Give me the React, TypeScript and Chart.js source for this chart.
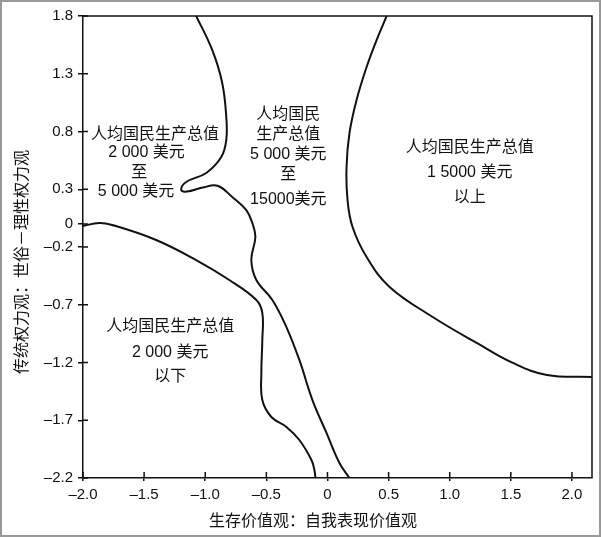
import React, { useEffect, useRef } from "react";
import { Chart, registerables } from "chart.js";

Chart.register(...registerables);

const xTicks = [-2.0, -1.5, -1.0, -0.5, 0, 0.5, 1.0, 1.5, 2.0];
const yTicks = [1.8, 1.3, 0.8, 0.3, 0, -0.2, -0.7, -1.2, -1.7, -2.2];
const xMin = -2.0;
const xMax = 2.164;
const yMin = -2.2;
const yMax = 1.8;

// Boundary between 2000–5000 / <2000 zones and 5000–15000 zone
const boundaryA_x = [-1.074, -0.943, -0.861, -0.828, -0.828, -0.869, -0.992, -1.156, -1.197, -1.15, -1.02, -0.9, -0.779, -0.664, -0.615, -0.59, -0.623, -0.582, -0.451, -0.336, -0.23, -0.123, -0.008, 0.098, 0.18];
const boundaryA_y = [1.8, 1.506, 1.22, 0.926, 0.726, 0.579, 0.441, 0.363, 0.294, 0.28, 0.315, 0.33, 0.233, 0.12, 0.008, -0.113, -0.313, -0.486, -0.659, -0.893, -1.178, -1.525, -1.81, -2.07, -2.2];

// Boundary of the < 2000 zone
const boundaryB_x = [-2.0, -1.869, -1.762, -1.402, -1.074, -0.803, -0.582, -0.533, -0.533, -0.541, -0.533, -0.459, -0.336, -0.23, -0.131, -0.107, -0.098];
const boundaryB_y = [-0.018, 0.008, -0.009, -0.139, -0.313, -0.486, -0.659, -0.771, -1.005, -1.291, -1.525, -1.672, -1.758, -1.871, -2.044, -2.131, -2.2];

// Boundary of the > 15000 zone
const boundaryC_x = [0.484, 0.402, 0.32, 0.238, 0.18, 0.156, 0.164, 0.205, 0.32, 0.508, 0.861, 1.221, 1.516, 1.795, 2.164];
const boundaryC_y = [1.8, 1.592, 1.358, 1.073, 0.787, 0.493, 0.207, -0.027, -0.287, -0.546, -0.806, -1.031, -1.204, -1.308, -1.326];

const zoneLabels = [
  { text: "人均国民生产总值", x: -1.41, y: 0.77 },
  { text: "2 000 美元", x: -1.48, y: 0.614 },
  { text: "至", x: -1.54, y: 0.44 },
  { text: "5 000 美元", x: -1.566, y: 0.276 },
  { text: "人均国民", x: -0.32, y: 0.943 },
  { text: "生产总值", x: -0.32, y: 0.77 },
  { text: "5 000 美元", x: -0.32, y: 0.597 },
  { text: "至", x: -0.32, y: 0.423 },
  { text: "15000美元", x: -0.32, y: 0.207 },
  { text: "人均国民生产总值", x: 1.164, y: 0.657 },
  { text: "1 5000 美元", x: 1.164, y: 0.441 },
  { text: "以上", x: 1.164, y: 0.224 },
  { text: "人均国民生产总值", x: -1.287, y: -0.893 },
  { text: "2 000 美元", x: -1.287, y: -1.118 },
  { text: "以下", x: -1.287, y: -1.326 },
];

const xTitle = "生存价值观：自我表现价值观";
const yTitle = "传统权力观：世俗－理性权力观";

const zip = (xs: number[], ys: number[]) => xs.map((x, i) => ({ x, y: ys[i] }));

const fmt = (v: number) => (v === 0 ? "0" : (v < 0 ? "\u2013" : "") + Math.abs(v).toFixed(1));

const INK = "#111";
const LABEL_FONT = "16px 'Liberation Sans', 'Noto Sans CJK SC', sans-serif";
const TICK_FONT_FAMILY = "'Liberation Sans', Arial, sans-serif";

const decorPlugin = {
  id: "decor",
  beforeDraw(chart: any) {
    const ctx = chart.ctx;
    ctx.save();
    ctx.fillStyle = "#fff";
    ctx.fillRect(0, 0, chart.width, chart.height);
    ctx.strokeStyle = "#999";
    ctx.lineWidth = 2;
    ctx.strokeRect(1, 1, chart.width - 3, chart.height - 2);
    ctx.restore();
  },
  afterDraw(chart: any) {
    const ctx = chart.ctx;
    const a = chart.chartArea;
    const xs = chart.scales.x;
    const ys = chart.scales.y;
    ctx.save();
    ctx.strokeStyle = INK;
    ctx.lineWidth = 1.5;
    ctx.beginPath();
    ctx.moveTo(a.left, a.top);
    ctx.lineTo(a.right, a.top);
    ctx.lineTo(a.right, a.bottom);
    ctx.stroke();
    // inner tick parts
    ctx.beginPath();
    yTicks.forEach((v) => {
      const py = ys.getPixelForValue(v);
      ctx.moveTo(a.left, py);
      ctx.lineTo(a.left + 5, py);
    });
    xTicks.forEach((v) => {
      const px = xs.getPixelForValue(v);
      ctx.moveTo(px, a.bottom);
      ctx.lineTo(px, a.bottom - 6);
    });
    ctx.stroke();
    // zone labels
    ctx.fillStyle = INK;
    ctx.font = LABEL_FONT;
    ctx.textAlign = "center";
    ctx.textBaseline = "middle";
    zoneLabels.forEach((l) => {
      ctx.fillText(l.text, xs.getPixelForValue(l.x), ys.getPixelForValue(l.y));
    });
    // axis titles
    ctx.fillText(xTitle, a.left + 230, a.bottom + 44);
    ctx.translate(a.left - 60, (a.top + a.bottom) / 2 + 15);
    ctx.rotate(-Math.PI / 2);
    ctx.fillText(yTitle, 0, 0);
    ctx.restore();
  },
};

export default function App() {
  const ref = useRef<HTMLCanvasElement | null>(null);
  useEffect(() => {
    if (!ref.current) return;
    const line = (xs: number[], ys: number[]) => ({
      data: zip(xs, ys),
      showLine: true,
      borderColor: INK,
      borderWidth: 2,
      pointRadius: 0,
      tension: 0.4,
      fill: false,
    });
    const chart = new Chart(ref.current, {
      type: "scatter",
      data: {
        datasets: [
          line(boundaryA_x, boundaryA_y),
          line(boundaryB_x, boundaryB_y),
          line(boundaryC_x, boundaryC_y),
        ],
      },
      options: {
        animation: false,
        responsive: true,
        maintainAspectRatio: false,
        layout: { padding: { top: 16, right: 10, left: 0, bottom: 0 } },
        plugins: { legend: { display: false }, tooltip: { enabled: false } },
        scales: {
          x: {
            type: "linear",
            min: xMin,
            max: xMax,
            afterBuildTicks: (s: any) => {
              s.ticks = xTicks.map((v) => ({ value: v }));
            },
            afterFit: (s: any) => {
              s.height = 59;
            },
            grid: { drawOnChartArea: false, tickLength: 3, color: INK, lineWidth: 1.5 },
            border: { color: INK, width: 1.5 },
            ticks: {
              color: INK,
              padding: 5,
              maxRotation: 0,
              font: { size: 15, family: TICK_FONT_FAMILY },
              callback: (v: any) => fmt(Number(v)),
            },
          },
          y: {
            type: "linear",
            min: yMin,
            max: yMax,
            afterBuildTicks: (s: any) => {
              s.ticks = yTicks.map((v) => ({ value: v }));
            },
            afterFit: (s: any) => {
              s.width = 83;
            },
            grid: { drawOnChartArea: false, tickLength: 5, color: INK, lineWidth: 1.5 },
            border: { color: INK, width: 1.5 },
            ticks: {
              color: INK,
              padding: 5,
              font: { size: 15, family: TICK_FONT_FAMILY },
              callback: (v: any) => fmt(Number(v)),
            },
          },
        },
      },
      plugins: [decorPlugin],
    } as any);
    return () => chart.destroy();
  }, []);
  return (
    <div style={{ position: "fixed", left: 0, top: 0, width: 602, height: 537, background: "#fff" }}>
      <canvas ref={ref} />
    </div>
  );
}
